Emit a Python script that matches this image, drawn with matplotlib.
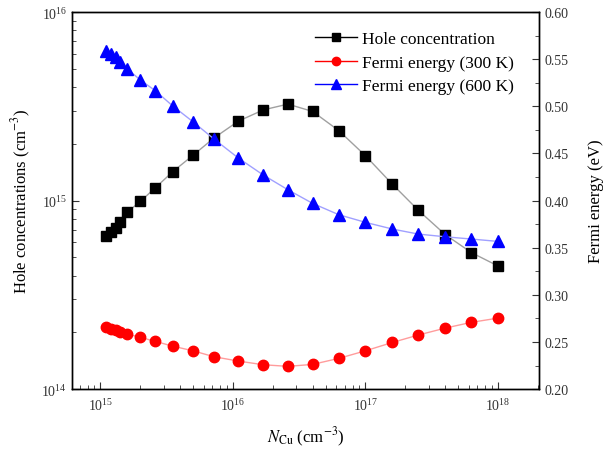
import numpy as np
import matplotlib
matplotlib.use("Agg")
import matplotlib.pyplot as plt
from matplotlib.lines import Line2D
from matplotlib.ticker import LogLocator, MultipleLocator, NullFormatter

plt.rcParams['font.family'] = ['Liberation Serif', 'DejaVu Serif']
plt.rcParams['mathtext.fontset'] = 'stix'

# data
n_cu = [1.1e15, 1.2e15, 1.3e15, 1.4e15, 1.6e15, 2.0e15, 2.6e15, 3.5e15, 5.0e15,
        7.2e15, 1.1e16, 1.7e16, 2.6e16, 4.0e16, 6.3e16, 1.0e17, 1.6e17, 2.5e17,
        4.0e17, 6.3e17, 1.0e18]
hole = [6.5e14, 6.8e14, 7.15e14, 7.7e14, 8.7e14, 9.9e14, 1.17e15, 1.42e15, 1.74e15,
        2.15e15, 2.64e15, 3.03e15, 3.25e15, 2.97e15, 2.35e15, 1.73e15, 1.22e15,
        8.9e14, 6.6e14, 5.3e14, 4.5e14]
ef_300 = [0.2655, 0.2637, 0.2626, 0.2608, 0.2584, 0.2549, 0.2506, 0.2456, 0.2406,
          0.2343, 0.2297, 0.2258, 0.2241, 0.2262, 0.2326, 0.2406, 0.2495, 0.2573,
          0.2647, 0.2708, 0.2753]
ef_600 = [0.559, 0.5554, 0.552, 0.547, 0.5395, 0.528, 0.5165, 0.5006, 0.4836,
          0.4653, 0.4451, 0.427, 0.4115, 0.397, 0.385, 0.3769, 0.3698, 0.3645,
          0.3616, 0.3592, 0.3567]

fig = plt.figure(figsize=(6.10, 4.52), dpi=100)
ax = fig.add_axes([0.118, 0.137, 0.766, 0.834])
ax2 = ax.twinx()

ax.plot(n_cu, hole, '-', color='#a0a0a0', lw=1.0, zorder=2)
ax.plot(n_cu, hole, 's', color='black', ms=7, zorder=3)
ax2.plot(n_cu, ef_300, '-', color='#ff9c9c', lw=1.0, zorder=2)
ax2.plot(n_cu, ef_300, 'o', color='red', ms=7.5, zorder=3)
ax2.plot(n_cu, ef_600, '-', color='#a0a0ff', lw=1.0, zorder=2)
ax2.plot(n_cu, ef_600, '^', color='blue', ms=8.5, zorder=3)

ax.set_xscale('log')
ax.set_yscale('log')
ax.set_xlim(6.1e14, 2.05e18)
ax.set_ylim(1e14, 1e16)
ax2.set_ylim(0.20, 0.60)

ax.xaxis.set_major_locator(LogLocator(base=10, numticks=10))
ax.xaxis.set_minor_locator(LogLocator(base=10, subs=np.arange(2, 10), numticks=20))
ax.xaxis.set_minor_formatter(NullFormatter())
ax.yaxis.set_major_locator(LogLocator(base=10, numticks=10))
ax.yaxis.set_minor_locator(LogLocator(base=10, subs=np.arange(2, 10), numticks=20))
ax.yaxis.set_minor_formatter(NullFormatter())
ax2.yaxis.set_major_locator(MultipleLocator(0.05))
ax2.yaxis.set_minor_locator(MultipleLocator(0.025))
ax2.yaxis.set_major_formatter(matplotlib.ticker.FormatStrFormatter('%.2f'))

ax.tick_params(which='both', direction='in', top=False, right=False, labelsize=10, colors='#333333')
ax.tick_params(which='major', length=5)
ax.tick_params(which='minor', length=3)
ax.tick_params(axis='x', which='major', pad=6)
ax2.tick_params(which='both', direction='in', labelsize=10, colors='#333333')
ax2.tick_params(which='major', length=5)
ax2.tick_params(which='minor', length=3)

for a in (ax, ax2):
    for s in a.spines.values():
        s.set_linewidth(1.0)

ax.set_xlabel(r'$N_{\mathrm{Cu}}$ (cm$^{-3}$)', fontsize=12, labelpad=8)
ax.set_ylabel(r'Hole concentrations (cm$^{-3}$)', fontsize=12, labelpad=6)
ax2.set_ylabel('Fermi energy (eV)', fontsize=12, labelpad=14)

handles = [
    Line2D([], [], color='black', lw=1.0, marker='s', ms=5.5),
    Line2D([], [], color='red', lw=1.0, marker='o', ms=6),
    Line2D([], [], color='blue', lw=1.0, marker='^', ms=6.5),
]
labels = ['Hole concentration', 'Fermi energy (300 K)', 'Fermi energy (600 K)']
fig.legend(handles, labels, loc='upper left', bbox_to_anchor=(315 / 610, 1 - 32 / 452),
           frameon=False, fontsize=12.5, handlelength=2.4, handletextpad=0.3,
           labelspacing=0.42, borderpad=0, borderaxespad=0)

fig.savefig('out.png', dpi=100)
